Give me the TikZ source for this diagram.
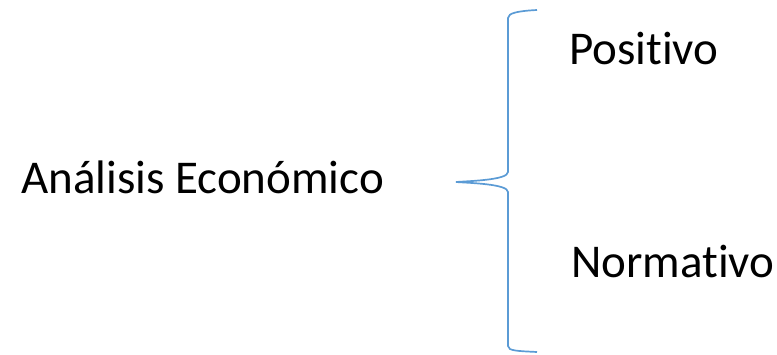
\documentclass[tikz,border=0pt]{standalone}
\usepackage{fontspec}
\setmainfont{Carlito}[Ligatures=NoCommon]
\begin{document}
\begin{tikzpicture}[x=1pt,y=-1pt,
	label node/.style={anchor=base west,inner sep=0pt,font=\fontsize{47}{56}\selectfont},
	brace line/.style={draw=braceblue,line width=1.7pt}
]
	\definecolor{braceblue}{RGB}{91,155,213}
	\useasboundingbox (0,0) rectangle (777,354);

	\def \bx {508};
	\def \ex {537};

	\node[label node] (ana) at (21,193) {Análisis Económico};
	\node[label node] (pos) at (569,64) {Positivo};
	\node[label node] (nor) at (571,277) {Normativo};

	% brace
	\coordinate (tip) at (456,182);
	\coordinate (top) at (\ex,10);
	\coordinate (bot) at (\ex,352);
	\draw[brace line] (top) .. controls (518,11) and (\bx,13) .. (\bx,18)
		-- (\bx,172) .. controls (\bx,180) and (470,181) .. (tip)
		.. controls (470,183) and (\bx,184) .. (\bx,192)
		-- (\bx,346) .. controls (\bx,351) and (518,351) .. (bot);
\end{tikzpicture}
\end{document}
